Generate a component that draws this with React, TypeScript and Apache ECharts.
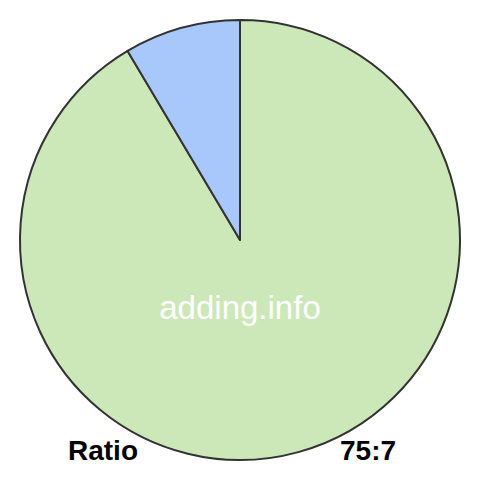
import React, { useEffect, useRef } from "react";
import * as echarts from "echarts";

const categories = ["A", "B"];
const values = [75, 7];
const colors = ["#cde8b8", "#a8c8fb"];
const watermark = "adding.info";
const leftLabel = "Ratio";
const rightLabel = "75:7";

export default function App() {
  const ref = useRef<HTMLDivElement>(null);
  useEffect(() => {
    if (!ref.current) return;
    const chart = echarts.init(ref.current, null, { renderer: "svg" });
    chart.setOption({
      animation: false,
      backgroundColor: "#ffffff",
      series: [
        {
          type: "pie",
          center: [240, 240],
          radius: [0, 220],
          startAngle: 90,
          clockwise: true,
          label: { show: false },
          labelLine: { show: false },
          emphasis: { disabled: true },
          itemStyle: { borderColor: "#333333", borderWidth: 2 },
          data: categories.map((c, i) => ({
            name: c,
            value: values[i],
            itemStyle: { color: colors[i] },
          })),
        },
      ],
      graphic: [
        {
          type: "text",
          x: 240,
          y: 307,
          style: {
            text: watermark,
            fill: "#ffffff",
            font: "33px 'Liberation Sans', Arial, sans-serif",
            align: "center",
            verticalAlign: "middle",
          },
          z: 10,
        },
        {
          type: "text",
          x: 68,
          y: 450,
          style: {
            text: leftLabel,
            fill: "#000000",
            font: "bold 28px 'Liberation Sans', Arial, sans-serif",
            align: "left",
            verticalAlign: "middle",
          },
          z: 10,
        },
        {
          type: "text",
          x: 340,
          y: 450,
          style: {
            text: rightLabel,
            fill: "#000000",
            font: "bold 28px 'Liberation Sans', Arial, sans-serif",
            align: "left",
            verticalAlign: "middle",
          },
          z: 10,
        },
      ],
    });
    return () => chart.dispose();
  }, []);
  return (
    <div
      ref={ref}
      style={{ position: "fixed", left: 0, top: 0, width: 480, height: 480 }}
    />
  );
}
